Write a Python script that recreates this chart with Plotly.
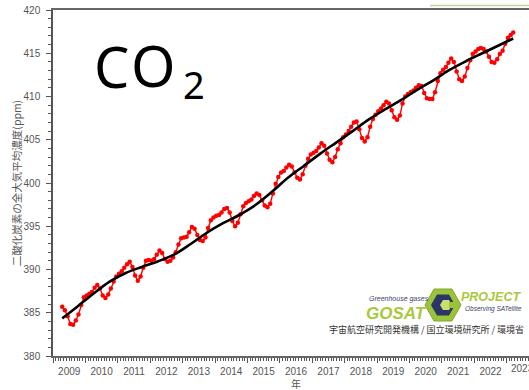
import plotly.graph_objects as go
import pandas as pd

# Monthly whole-atmosphere mean CO2 (ppm), April 2009 - March 2023
co2_2009 = [385.7, 385.3, 384.6, 383.7, 383.6, 384.1, 384.8, 385.9, 386.8]  # Apr-Dec
co2_2010 = [387.0, 387.2, 387.4, 387.9, 388.2, 387.8, 387.0, 386.7, 387.1, 387.8, 388.6, 389.2]
co2_2011 = [389.5, 389.8, 390.2, 390.6, 390.9, 390.3, 389.3, 388.7, 389.2, 390.2, 391.0, 391.1]
co2_2012 = [391.0, 391.2, 391.7, 392.2, 391.9, 391.2, 390.9, 391.0, 391.4, 392.0, 392.9, 393.6]
co2_2013 = [393.7, 393.8, 394.3, 394.9, 394.7, 394.0, 393.4, 393.3, 393.7, 394.8, 395.7, 396.0]
co2_2014 = [396.2, 396.3, 396.6, 397.0, 397.1, 396.6, 395.6, 395.0, 395.4, 396.4, 397.3, 397.7]
co2_2015 = [397.9, 398.1, 398.5, 398.8, 398.6, 398.0, 397.4, 397.2, 397.6, 398.8, 399.9, 400.7]
co2_2016 = [401.2, 401.4, 401.8, 402.1, 401.9, 401.2, 400.6, 400.4, 401.0, 402.0, 402.8, 403.3]
co2_2017 = [403.5, 403.7, 404.1, 404.6, 404.3, 403.4, 402.7, 402.4, 403.0, 403.9, 404.6, 405.3]
co2_2018 = [405.6, 406.0, 406.5, 407.0, 407.1, 406.2, 405.2, 404.8, 405.3, 406.5, 407.4, 407.9]
co2_2019 = [408.3, 408.6, 409.0, 409.4, 409.2, 408.4, 407.6, 407.3, 407.8, 409.2, 410.0, 410.3]
co2_2020 = [410.5, 410.7, 411.0, 411.3, 411.2, 410.4, 409.8, 409.7, 409.7, 410.5, 411.8, 412.7]
co2_2021 = [413.1, 413.4, 413.9, 414.4, 414.0, 412.9, 412.0, 411.8, 412.3, 413.3, 414.2, 414.9]
co2_2022 = [415.2, 415.5, 415.6, 415.5, 415.2, 414.6, 414.0, 413.9, 414.3, 414.9, 415.3, 416.1]
co2_2023 = [416.8, 417.1, 417.4]  # Jan-Mar

monthly_co2 = (co2_2009 + co2_2010 + co2_2011 + co2_2012 + co2_2013 + co2_2014
               + co2_2015 + co2_2016 + co2_2017 + co2_2018 + co2_2019 + co2_2020
               + co2_2021 + co2_2022 + co2_2023)
months = pd.date_range("2009-04-01", periods=len(monthly_co2), freq="MS") + pd.Timedelta(days=14)

# Deseasonalised trend
trend_dates = ["2009-04-15", "2009-10-01",
               "2010-04-01", "2010-10-01", "2011-04-01", "2011-10-01",
               "2012-04-01", "2012-10-01", "2013-04-01", "2013-10-01",
               "2014-04-01", "2014-10-01", "2015-04-01", "2015-10-01",
               "2016-04-01", "2016-10-01", "2017-04-01", "2017-10-01",
               "2018-04-01", "2018-10-01", "2019-04-01", "2019-10-01",
               "2020-04-01", "2020-10-01", "2021-04-01", "2021-10-01",
               "2022-04-01", "2022-10-01", "2023-03-15"]
trend_co2 = [384.35, 385.7,
             387.2, 388.6, 389.6, 390.3,
             390.95, 391.75, 392.95, 394.25,
             395.35, 396.3, 397.45, 398.95,
             400.6, 402.0, 403.4, 404.7,
             406.0, 407.35, 408.5, 409.6,
             410.8, 411.9, 413.1, 414.1,
             415.0, 415.9, 416.7]

year_labels = ["2023"]          # last year label, whose period runs past the visible edge
year_label_pos = ["2023-07-02"]

W, H = 529, 390
L, R, T, B = 53, 0, 10, 34


def px(x):
    return (x - L) / (W - L - R)


def py(y):
    return (H - B - y) / (H - T - B)


fig = go.Figure()
fig.add_trace(go.Scatter(
    x=months, y=monthly_co2, mode="lines+markers",
    line=dict(color="#ff0000", width=1.4),
    marker=dict(color="#ff0000", size=4.5),
    showlegend=False,
))
fig.add_trace(go.Scatter(
    x=trend_dates, y=trend_co2, mode="lines",
    line=dict(color="#000000", width=2.6, shape="spline", smoothing=1.0),
    showlegend=False,
))

tick_font = dict(family="Liberation Sans, Arial, sans-serif", size=10, color="#555555")

fig.update_xaxes(
    type="date", range=["2009-01-01", "2023-09-09"],
    tick0="2009-01-01", dtick="M12", tickformat="%Y", ticklabelmode="period",
    ticks="outside", ticklen=5, tickwidth=1, tickcolor="#555555",
    minor=dict(dtick="M1", ticks="outside", ticklen=3, tickcolor="#555555"),
    showline=True, linecolor="#666666", linewidth=1.5, mirror=True,
    showgrid=False, zeroline=False, tickfont=tick_font,
)
fig.update_yaxes(
    range=[380, 420], dtick=5, tick0=380,
    ticks="outside", ticklen=5, tickwidth=1, tickcolor="#555555",
    minor=dict(dtick=1, ticks="outside", ticklen=3, tickcolor="#555555"),
    showline=True, linecolor="#555555", linewidth=1.5,
    showgrid=False, zeroline=False, tickfont=tick_font, ticklabelstandoff=4,
    title=dict(text="二酸化炭素の全大気平均濃度(ppm)",
               font=dict(family="Noto Sans CJK JP", size=10.5, color="#555555"),
               standoff=0),
)

P = dict(xref="paper", yref="paper", showarrow=False)
annotations = [
    # big formula label, letters set individually for spacing
    dict(x=px(92), y=py(106), text="C", xanchor="left", yanchor="bottom",
         font=dict(family="Noto Sans", size=56, color="#000000"), **P),
    dict(x=px(129), y=py(106), text="O", xanchor="left", yanchor="bottom",
         font=dict(family="Noto Sans", size=57, color="#000000"), **P),
    dict(x=px(181), y=py(112), text="2", xanchor="left", yanchor="bottom",
         font=dict(family="Noto Sans", size=38, color="#000000"), **P),
    # x-axis title
    dict(x=px(296), y=py(383), text="年", xanchor="center", yanchor="middle", borderpad=0,
         font=dict(family="Noto Sans CJK JP", size=10, color="#555555"), **P),
    # project logo texts
    dict(x=px(367), y=py(299), text="<i>Greenhouse gases</i>", xanchor="left", yanchor="middle",
         font=dict(family="Liberation Sans", size=7, color="#3a3f6a"), **P),
    dict(x=px(364), y=py(313), text="<b><i>GOSAT</i></b>", xanchor="left", yanchor="middle",
         font=dict(family="Liberation Sans", size=17, color="#a9c93c"), **P),
    dict(x=px(459), y=py(297), text="<b><i>PROJECT</i></b>", xanchor="left", yanchor="middle",
         font=dict(family="Liberation Sans", size=12.5, color="#a9c93c"), **P),
    dict(x=px(463), y=py(309), text="<i>Observing SATellite</i>", xanchor="left", yanchor="middle",
         font=dict(family="Liberation Sans", size=6.5, color="#3a3f6a"), **P),
    dict(x=px(526), y=py(329), text="宇宙航空研究開発機構 / 国立環境研究所 / 環境省",
         xanchor="right", yanchor="middle",
         font=dict(family="Noto Sans CJK JP", size=9, color="#333333"), **P),
]
for lab, pos in zip(year_labels, year_label_pos):
    annotations.append(dict(x=pos, xref="x", y=py(368), yref="paper", text=lab,
                            xanchor="center", yanchor="middle",
                            showarrow=False, font=tick_font))


def hexagon(cx, cy, rx, ry):
    pts = [(cx - rx, cy), (cx - rx / 2, cy - ry), (cx + rx / 2, cy - ry),
           (cx + rx, cy), (cx + rx / 2, cy + ry), (cx - rx / 2, cy + ry)]
    return "M " + " L ".join(f"{px(a):.4f},{py(b):.4f}" for a, b in pts) + " Z"


shapes = [
    # emblem: green hexagon with a dark inner ring
    dict(type="path", xref="paper", yref="paper", path=hexagon(443, 305, 18, 16),
         fillcolor="#9cc23a", line=dict(color="#7fa82c", width=1)),
    dict(type="path", xref="paper", yref="paper", path=hexagon(443, 305, 12, 10.5),
         fillcolor="#2b3566", line=dict(width=0)),
    dict(type="path", xref="paper", yref="paper", path=hexagon(446, 305, 6, 5),
         fillcolor="#c8e070", line=dict(width=0)),
    dict(type="rect", xref="paper", yref="paper", x0=px(449), x1=px(456), y0=py(302), y1=py(308),
         fillcolor="#9cc23a", line=dict(width=0)),
    # thin green rule at the top right
    dict(type="line", xref="paper", yref="paper", x0=px(430), x1=px(529), y0=py(5.5), y1=py(5.5),
         line=dict(color="#b9dc8e", width=1.5)),
]

fig.update_layout(
    width=W, height=H,
    margin=dict(l=L, r=R, t=T, b=B),
    paper_bgcolor="white", plot_bgcolor="white",
    annotations=annotations, shapes=shapes,
)

fig.write_html("out.html")
